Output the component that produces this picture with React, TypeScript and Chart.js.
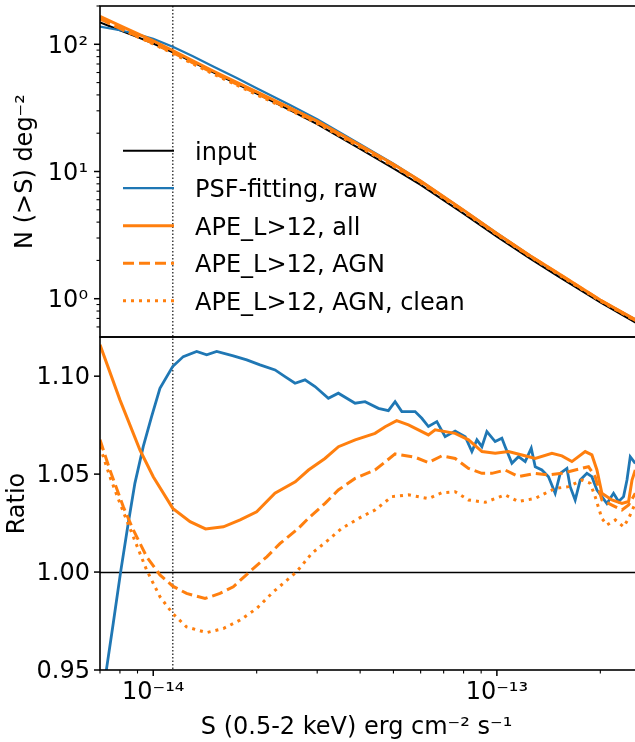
import React, { useEffect, useRef } from "react";
import { Chart, registerables } from "chart.js";

Chart.register(...registerables);

// ---------- data: top panel, cumulative number counts N(>S) ----------
const fluxTop = [7e-15, 8e-15, 9e-15, 1e-14, 1.14e-14, 1.3e-14, 1.5e-14, 1.75e-14, 2e-14, 2.5e-14, 3e-14, 4e-14, 5e-14, 6e-14, 8e-14, 1e-13, 1.25e-13, 1.5e-13, 2e-13, 2.54e-13];
const nInput = [148.6, 128.9, 113.9, 101.5, 86.6, 72.7, 60.0, 48.9, 40.9, 30.4, 23.6, 15.06, 10.6, 7.84, 4.66, 3.07, 2.06, 1.51, 0.935, 0.645];
const nPsf = [137.8, 128.9, 119.9, 110.3, 95.7, 80.8, 66.7, 54.3, 45.2, 33.3, 25.8, 16.4, 11.5, 8.45, 4.97, 3.27, 2.18, 1.58, 0.972, 0.682];
const nApeAll = [165.8, 140.2, 121.4, 106.5, 89.4, 74.4, 61.4, 50.2, 42.2, 31.7, 24.9, 16.1, 11.4, 8.40, 4.97, 3.26, 2.18, 1.60, 0.977, 0.679];
const nApeAgn = [158.6, 133.4, 115.3, 101.8, 86.0, 71.8, 59.3, 48.6, 41.0, 31.0, 24.4, 15.8, 11.2, 8.29, 4.90, 3.23, 2.16, 1.59, 0.972, 0.671];
const nApeClean = [158.1, 133.4, 114.5, 100.6, 84.8, 70.5, 58.2, 47.7, 40.1, 30.3, 23.9, 15.5, 11.0, 8.14, 4.83, 3.19, 2.14, 1.57, 0.960, 0.668];

// ---------- data: bottom panel, ratio to input ----------
const psfS = [7.0e-15, 7.315e-15, 7.648e-15, 8.04e-15, 8.456e-15, 8.843e-15, 9.352e-15, 9.89e-15, 1.046e-14, 1.139e-14, 1.223e-14, 1.338e-14, 1.431e-14, 1.53e-14, 1.71e-14, 1.871e-14, 2.045e-14, 2.262e-14, 2.418e-14, 2.586e-14, 2.765e-14, 2.957e-14, 3.233e-14, 3.457e-14, 3.867e-14, 4.135e-14, 4.521e-14, 4.834e-14, 5.056e-14, 5.289e-14, 5.782e-14, 6.047e-14, 6.321e-14, 6.688e-14, 7.07e-14, 7.56e-14, 8.09e-14, 8.458e-14, 8.747e-14, 9.045e-14, 9.352e-14, 9.886e-14, 1.034e-13, 1.057e-13, 1.106e-13, 1.156e-13, 1.209e-13, 1.259e-13, 1.293e-13, 1.352e-13, 1.413e-13, 1.478e-13, 1.529e-13, 1.599e-13, 1.634e-13, 1.69e-13, 1.748e-13, 1.828e-13, 1.89e-13, 1.955e-13, 2.021e-13, 2.09e-13, 2.185e-13, 2.26e-13, 2.337e-13, 2.391e-13, 2.444e-13, 2.528e-13];
const psfRatio = [0.927, 0.9507, 0.9737, 1.0002, 1.0248, 1.0453, 1.064, 1.0794, 1.0938, 1.1049, 1.11, 1.1126, 1.1109, 1.1126, 1.1104, 1.1083, 1.1058, 1.1032, 1.0998, 1.0964, 1.0981, 1.0947, 1.0887, 1.0913, 1.0862, 1.087, 1.0836, 1.0824, 1.087, 1.0819, 1.0819, 1.0785, 1.0743, 1.0768, 1.0691, 1.072, 1.0691, 1.0615, 1.0675, 1.064, 1.0717, 1.0666, 1.0683, 1.064, 1.0555, 1.0589, 1.0564, 1.0632, 1.0538, 1.0521, 1.0487, 1.0402, 1.0504, 1.0529, 1.0436, 1.0368, 1.047, 1.0504, 1.0487, 1.0419, 1.0385, 1.035, 1.0402, 1.036, 1.0385, 1.047, 1.0589, 1.0555];

const allS = [7.0e-15, 8.0e-15, 9.15e-15, 1.0e-14, 1.14e-14, 1.28e-14, 1.42e-14, 1.6e-14, 1.79e-14, 2.0e-14, 2.26e-14, 2.59e-14, 2.83e-14, 3.16e-14, 3.46e-14, 3.87e-14, 4.42e-14, 4.73e-14, 5.11e-14, 5.53e-14, 6.32e-14, 6.61e-14, 7.56e-14, 8.27e-14, 9.05e-14, 9.89e-14, 1.081e-13, 1.183e-13, 1.293e-13, 1.446e-13, 1.546e-13, 1.653e-13, 1.807e-13, 1.89e-13, 1.955e-13, 2.021e-13, 2.162e-13, 2.312e-13, 2.417e-13, 2.473e-13, 2.528e-13];
const allRatio = [1.116, 1.0879, 1.0623, 1.0487, 1.0325, 1.0257, 1.022, 1.0231, 1.0266, 1.0308, 1.0402, 1.0461, 1.0521, 1.058, 1.064, 1.0675, 1.0708, 1.0742, 1.0773, 1.0751, 1.07, 1.0726, 1.0708, 1.0675, 1.0615, 1.0606, 1.0615, 1.0598, 1.058, 1.0606, 1.0593, 1.0564, 1.0615, 1.0598, 1.0521, 1.0402, 1.0368, 1.035, 1.036, 1.047, 1.0521];

const agnS = [7.0e-15, 7.48e-15, 8.18e-15, 8.75e-15, 9.57e-15, 1.046e-14, 1.14e-14, 1.25e-14, 1.415e-14, 1.564e-14, 1.71e-14, 1.91e-14, 2.14e-14, 2.34e-14, 2.644e-14, 2.827e-14, 3.162e-14, 3.457e-14, 3.867e-14, 4.422e-14, 5.056e-14, 5.782e-14, 6.321e-14, 6.915e-14, 7.56e-14, 8.267e-14, 9.045e-14, 9.669e-14, 1.057e-13, 1.156e-13, 1.293e-13, 1.413e-13, 1.546e-13, 1.69e-13, 1.848e-13, 1.932e-13, 2.021e-13, 2.162e-13, 2.312e-13, 2.417e-13, 2.528e-13];
const agnRatio = [1.0675, 1.0521, 1.0334, 1.0215, 1.0078, 0.9985, 0.9928, 0.9891, 0.9865, 0.9891, 0.9925, 1.0002, 1.0078, 1.0146, 1.0223, 1.0274, 1.0351, 1.0419, 1.0478, 1.0521, 1.0603, 1.0586, 1.0559, 1.0593, 1.058, 1.0529, 1.0504, 1.0504, 1.0521, 1.0487, 1.0504, 1.0496, 1.0504, 1.0521, 1.0538, 1.0487, 1.0368, 1.0342, 1.0317, 1.0342, 1.0402];

const cleanS = [7.0e-15, 7.48e-15, 8.0e-15, 8.75e-15, 9.57e-15, 1.046e-14, 1.14e-14, 1.25e-14, 1.43e-14, 1.6e-14, 1.79e-14, 2.0e-14, 2.236e-14, 2.616e-14, 2.892e-14, 3.233e-14, 3.537e-14, 4.045e-14, 4.422e-14, 4.945e-14, 5.528e-14, 6.321e-14, 6.915e-14, 7.56e-14, 8.267e-14, 9.245e-14, 1.057e-13, 1.156e-13, 1.293e-13, 1.382e-13, 1.478e-13, 1.616e-13, 1.768e-13, 1.869e-13, 1.932e-13, 2.021e-13, 2.09e-13, 2.211e-13, 2.337e-13, 2.417e-13, 2.528e-13];
const cleanRatio = [1.064, 1.0487, 1.0351, 1.018, 1.001, 0.9874, 0.9788, 0.972, 0.9691, 0.9712, 0.9755, 0.9814, 0.9899, 1.0002, 1.0095, 1.0164, 1.0223, 1.0283, 1.0317, 1.0385, 1.0394, 1.0375, 1.0405, 1.041, 1.0368, 1.0356, 1.0394, 1.036, 1.0376, 1.0402, 1.0427, 1.0436, 1.047, 1.0453, 1.0385, 1.0274, 1.024, 1.0266, 1.0231, 1.0274, 1.035];

// ---------- axes / ticks ----------
const xMin = 7e-15;
const xMax = 2.54e-13;
const xTickValues = [1e-14, 1e-13];
const xTickLabels = ["10\u207B\u00B9\u2074", "10\u207B\u00B9\u00B3"];
const xMinorTicks = [7e-15, 8e-15, 9e-15, 2e-14, 3e-14, 4e-14, 5e-14, 6e-14, 7e-14, 8e-14, 9e-14, 2e-13];
const yTopMin = 0.5;
const yTopMax = 200;
const yTopTickValues = [1, 10, 100];
const yTopTickLabels = ["10\u2070", "10\u00B9", "10\u00B2"];
const yTopMinorTicks = [0.6, 0.7, 0.8, 0.9, 2, 3, 4, 5, 6, 7, 8, 9, 20, 30, 40, 50, 60, 70, 80, 90, 200];
const yBotMin = 0.95;
const yBotMax = 1.12;
const yBotTickValues = [0.95, 1.0, 1.05, 1.1];
const yBotTickLabels = ["0.95", "1.00", "1.05", "1.10"];
const fluxLimit = 1.14e-14;
const unityRatio = 1.0;

const seriesLabels = ["input", "PSF-fitting, raw", "APE_L>12, all", "APE_L>12, AGN", "APE_L>12, AGN, clean"];
const BLUE = "#1f77b4";
const ORANGE = "#ff7f0e";
const FONT = "DejaVu Sans";

const legendStyles = [
  { color: "#000000", width: 2, dash: [] as number[], cap: "butt" },
  { color: BLUE, width: 2.2, dash: [] as number[], cap: "butt" },
  { color: ORANGE, width: 3, dash: [] as number[], cap: "butt" },
  { color: ORANGE, width: 3, dash: [11, 5], cap: "butt" },
  { color: ORANGE, width: 3, dash: [3, 5], cap: "butt" },
];

const pts = (xs: number[], ys: number[]) => xs.map((x, i) => ({ x, y: ys[i] }));

const decorPlugin = {
  id: "decor",
  beforeDatasetsDraw(chart: any) {
    const { ctx, chartArea } = chart;
    const xs = chart.scales.x;
    const yb = chart.scales.yBot;
    ctx.save();
    const y1 = Math.round(yb.getPixelForValue(unityRatio)) + 0.5;
    ctx.strokeStyle = "#000";
    ctx.lineWidth = 1.6;
    ctx.beginPath();
    ctx.moveTo(chartArea.left, y1);
    ctx.lineTo(chartArea.right, y1);
    ctx.stroke();
    const xv = xs.getPixelForValue(fluxLimit);
    ctx.strokeStyle = "#333";
    ctx.lineWidth = 1.4;
    ctx.setLineDash([1.5, 2]);
    ctx.beginPath();
    ctx.moveTo(xv, chartArea.top);
    ctx.lineTo(xv, chartArea.bottom);
    ctx.stroke();
    ctx.restore();
  },
  afterDatasetsDraw(chart: any) {
    const { ctx, chartArea } = chart;
    const xs = chart.scales.x;
    const yt = chart.scales.yTop;
    const yb = chart.scales.yBot;
    ctx.save();
    ctx.strokeStyle = "#000";
    ctx.lineWidth = 1.6;
    ctx.setLineDash([]);
    const L = chartArea.left, R = chartArea.right;
    ctx.strokeRect(L, yt.top, R - L, yt.bottom - yt.top);
    ctx.strokeRect(L, yb.top, R - L, yb.bottom - yb.top);
    const tick = (x0: number, y0: number, x1: number, y1: number, w: number) => {
      ctx.lineWidth = w;
      ctx.beginPath();
      ctx.moveTo(x0, y0);
      ctx.lineTo(x1, y1);
      ctx.stroke();
    };
    xTickValues.forEach((v) => { const p = xs.getPixelForValue(v); tick(p, chartArea.bottom, p, chartArea.bottom + 6, 1.5); });
    xMinorTicks.forEach((v) => { const p = xs.getPixelForValue(v); tick(p, chartArea.bottom, p, chartArea.bottom + 3.5, 1.1); });
    yTopTickValues.forEach((v) => { const p = yt.getPixelForValue(v); tick(L, p, L - 6, p, 1.5); });
    yTopMinorTicks.forEach((v) => { const p = yt.getPixelForValue(v); tick(L, p, L - 3.5, p, 1.1); });
    yBotTickValues.forEach((v) => { const p = yb.getPixelForValue(v); tick(L, p, L - 6, p, 1.5); });
    // legend inside the upper panel
    const rowY0 = 150.7, rowStep = 37.5;
    ctx.font = `24px "${FONT}"`;
    ctx.textAlign = "left";
    ctx.textBaseline = "alphabetic";
    seriesLabels.forEach((lab, i) => {
      const y = rowY0 + i * rowStep;
      const st = legendStyles[i];
      ctx.strokeStyle = st.color;
      ctx.lineWidth = st.width;
      ctx.setLineDash(st.dash);
      ctx.beginPath();
      ctx.moveTo(123, y);
      ctx.lineTo(174, y);
      ctx.stroke();
      ctx.setLineDash([]);
      ctx.fillStyle = "#000";
      ctx.fillText(lab, 195, y + 9);
    });
    ctx.restore();
  },
};

export default function App() {
  const ref = useRef<HTMLCanvasElement | null>(null);
  useEffect(() => {
    if (!ref.current) return;
    const mk = (label: string, data: any[], axis: string, color: string, width: number, dash: number[], order: number) => ({
      label, data, yAxisID: axis, borderColor: color, backgroundColor: color, borderWidth: width,
      borderDash: dash, pointRadius: 0, fill: false, tension: 0, order,
    });
    const noPad = (s: any) => { s.paddingTop = 0; s.paddingBottom = 0; s.paddingLeft = 0; s.paddingRight = 0; };
    const chart = new Chart(ref.current, {
      type: "line",
      data: {
        datasets: [
          mk(seriesLabels[0], pts(fluxTop, nInput), "yTop", "#000", 2, [], 10),
          mk(seriesLabels[1], pts(fluxTop, nPsf), "yTop", BLUE, 2.2, [], 9),
          mk(seriesLabels[2], pts(fluxTop, nApeAll), "yTop", ORANGE, 3, [], 8),
          mk(seriesLabels[3], pts(fluxTop, nApeAgn), "yTop", ORANGE, 3, [11, 5], 7),
          mk(seriesLabels[4], pts(fluxTop, nApeClean), "yTop", ORANGE, 3, [3, 5], 6),
          mk(seriesLabels[1], pts(psfS, psfRatio), "yBot", BLUE, 2.8, [], 5),
          mk(seriesLabels[2], pts(allS, allRatio), "yBot", ORANGE, 3, [], 4),
          mk(seriesLabels[3], pts(agnS, agnRatio), "yBot", ORANGE, 3, [11, 5], 3),
          mk(seriesLabels[4], pts(cleanS, cleanRatio), "yBot", ORANGE, 3, [3, 5], 2),
        ] as any,
      },
      options: {
        responsive: false,
        maintainAspectRatio: false,
        animation: false,
        devicePixelRatio: 1,
        layout: { padding: { top: 6, right: 4, bottom: 0, left: 0 } },
        plugins: { legend: { display: false }, tooltip: { enabled: false } },
        scales: {
          x: {
            type: "logarithmic",
            position: "bottom",
            min: xMin,
            max: xMax,
            bounds: "data",
            grid: { display: false, drawTicks: false },
            border: { display: false },
            ticks: {
              autoSkip: false, maxRotation: 0, minRotation: 0, padding: 8, color: "#000",
              font: { family: FONT, size: 24 },
              callback: (_v: any, i: number) => xTickLabels[i],
            },
            afterBuildTicks: (s: any) => { s.ticks = xTickValues.map((v) => ({ value: v })); },
            afterFit: (s: any) => { s.height = 72; noPad(s); },
            title: {
              display: true, text: "S (0.5-2 keV) erg cm\u207B\u00B2 s\u207B\u00B9   ", color: "#000",
              font: { family: FONT, size: 24, lineHeight: 1.2 }, padding: { top: 0, bottom: 0 },
            },
          },
          yTop: {
            type: "logarithmic",
            position: "left",
            stack: "panels",
            stackWeight: 331,
            weight: 1,
            min: yTopMin,
            max: yTopMax,
            bounds: "data",
            grid: { display: false, drawTicks: false },
            border: { display: false },
            ticks: {
              autoSkip: false, padding: 12, labelOffset: 2, color: "#000",
              font: { family: FONT, size: 24 },
              callback: (_v: any, i: number) => yTopTickLabels[i],
            },
            afterBuildTicks: (s: any) => { s.ticks = yTopTickValues.map((v) => ({ value: v })); },
            afterFit: (s: any) => { s.width = 100; noPad(s); },
            title: {
              display: true, text: "N (>S) deg\u207B\u00B2", color: "#000",
              font: { family: FONT, size: 24, lineHeight: 1.2 }, padding: { top: 11.5, bottom: 0 },
            },
          },
          yBot: {
            type: "linear",
            position: "left",
            stack: "panels",
            stackWeight: 333,
            weight: 0,
            min: yBotMin,
            max: yBotMax,
            bounds: "data",
            grid: { display: false, drawTicks: false },
            border: { display: false },
            ticks: {
              autoSkip: false, padding: 10, labelOffset: 2, color: "#000",
              font: { family: FONT, size: 24 },
              callback: (_v: any, i: number) => yBotTickLabels[i],
            },
            afterBuildTicks: (s: any) => { s.ticks = yBotTickValues.map((v) => ({ value: v })); },
            afterFit: (s: any) => { s.width = 100; noPad(s); },
            title: {
              display: true, text: "Ratio", color: "#000",
              font: { family: FONT, size: 24, lineHeight: 1.2 }, padding: { top: 3.5, bottom: 0 },
            },
          },
        },
      } as any,
      plugins: [decorPlugin],
    });
    return () => chart.destroy();
  }, []);
  return (
    <div style={{ position: "absolute", left: 0, top: 0, width: 635, height: 742, overflow: "hidden", background: "#fff" }}>
      <canvas ref={ref} width={640} height={742} style={{ display: "block", width: 640, height: 742 }} />
    </div>
  );
}
